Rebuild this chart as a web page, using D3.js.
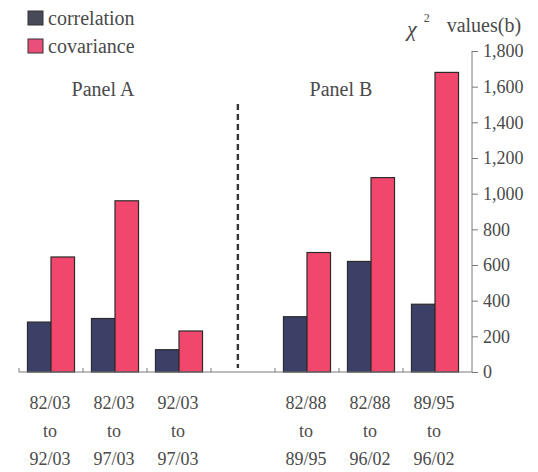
<!DOCTYPE html>
<html>
<head>
<meta charset="utf-8">
<script src="https://cdn.jsdelivr.net/npm/d3@7"></script>
<style>
  html, body { margin: 0; padding: 0; background: #fff; }
  svg { display: block; font-family: "Liberation Serif", "Times New Roman", serif; }
</style>
</head>
<body>
<svg id="chart" width="538" height="472"></svg>
<script>
// Sample periods compared in each panel
const panelA = ["82/03 to 92/03", "82/03 to 97/03", "92/03 to 97/03"];
const panelB = ["82/88 to 89/95", "82/88 to 96/02", "89/95 to 96/02"];
const categories = panelA.concat(panelB);

// Chi-square statistics by test
const series = ["correlation", "covariance"];
const correlation = [280, 300, 125, 310, 620, 380];
const covariance = [645, 960, 230, 670, 1090, 1680];

const yTicks = [0, 200, 400, 600, 800, 1000, 1200, 1400, 1600, 1800];
const yTitle = "values(b)";
const panelTitles = ["Panel A", "Panel B"];

const colors = { correlation: "#3c3f66", covariance: "#f2476d" };

const svg = d3.select("#chart");

// Slots along the x axis: panel A, an empty divider slot, panel B
const slots = panelA.concat(["divider"], panelB);
const x0 = d3.scaleBand().domain(slots).range([19, 467]).padding(0);
const x1 = d3.scaleBand().domain(series).range([0, x0.bandwidth()])
  .paddingInner(0).paddingOuter(0.36);
const y = d3.scaleLinear().domain([0, 1800]).range([372, 51]);

const rows = categories.map((c, i) => ({
  cat: c,
  values: { correlation: correlation[i], covariance: covariance[i] }
}));

// Bars
const groups = svg.append("g").selectAll("g")
  .data(rows)
  .join("g")
  .attr("transform", d => `translate(${x0(d.cat)},0)`);

groups.selectAll("rect")
  .data(d => series.map(s => ({ s, v: d.values[s] })))
  .join("rect")
  .attr("x", d => x1(d.s))
  .attr("width", x1.bandwidth())
  .attr("y", d => y(d.v))
  .attr("height", d => y(0) - y(d.v))
  .attr("fill", d => colors[d.s])
  .attr("stroke", "#2b2b2b")
  .attr("stroke-width", 1.2);

// Baseline with small separator ticks between groups
const axisColor = "#7a7a7a";
svg.append("line")
  .attr("x1", x0.range()[0]).attr("x2", x0.range()[1] + 5)
  .attr("y1", y(0)).attr("y2", y(0))
  .attr("stroke", axisColor).attr("stroke-width", 1);

const edges = slots.map(s => x0(s));
svg.append("g").selectAll("line")
  .data(edges)
  .join("line")
  .attr("x1", d => d).attr("x2", d => d)
  .attr("y1", y(0)).attr("y2", y(0) - 4)
  .attr("stroke", axisColor).attr("stroke-width", 1);

// Right-hand value axis
const yAxis = d3.axisRight(y)
  .tickValues(yTicks)
  .tickFormat(d3.format(","))
  .tickSize(6)
  .tickPadding(5);

const ax = svg.append("g")
  .attr("transform", `translate(${x0.range()[1] + 5},0)`)
  .call(yAxis);
ax.select(".domain").attr("stroke", axisColor).attr("d", `M0,${y(1800)}V${y(0)}`);
ax.selectAll(".tick line").attr("stroke", axisColor);
ax.selectAll(".tick text")
  .attr("fill", "#4a4a4a")
  .style("font-size", "18px")
  .style("font-family", "'Liberation Serif', serif");

// Axis title: chi-square values
const title = svg.append("text")
  .attr("x", 407).attr("y", 32)
  .attr("fill", "#4a4a4a")
  .style("font-size", "20px");
title.append("tspan").text("χ").style("font-style", "italic").style("font-size", "22px").attr("dy", 4);
title.append("tspan").text("2").style("font-size", "12px").attr("dx", 7).attr("dy", -14);
title.append("tspan").text(" " + yTitle).attr("dx", 12).attr("dy", 10);

// Category labels (three lines each)
const lab = svg.append("g").selectAll("text")
  .data(categories)
  .join("text")
  .attr("text-anchor", "middle")
  .attr("fill", "#4a4a4a")
  .style("font-size", "18px")
  .attr("transform", d => `translate(${x0(d) + x0.bandwidth() / 2 - 1},0)`);
lab.each(function (d) {
  const parts = d.split(" to ");
  const t = d3.select(this);
  [parts[0], "to", parts[1]].forEach((p, i) => {
    t.append("tspan").attr("x", 0).attr("y", 409 + i * 28).text(p);
  });
});

// Dashed divider between the panels
const divX = x0("divider") + x0.bandwidth() * 0.42;
svg.append("line")
  .attr("x1", divX).attr("x2", divX)
  .attr("y1", 104).attr("y2", y(0) - 4)
  .attr("stroke", "#333")
  .attr("stroke-width", 2.4)
  .attr("stroke-dasharray", "6,4");

// Panel titles
svg.append("g").selectAll("text")
  .data(panelTitles)
  .join("text")
  .attr("x", (d, i) => i === 0 ? 103 : 341)
  .attr("y", 96)
  .attr("text-anchor", "middle")
  .attr("fill", "#4a4a4a")
  .style("font-size", "20px")
  .text(d => d);

// Legend
const legendColors = { correlation: "#484a5a", covariance: "#ea4f79" };
const legend = svg.append("g").selectAll("g")
  .data(series)
  .join("g")
  .attr("transform", (d, i) => `translate(28,${11 + i * 28})`);
legend.append("rect")
  .attr("width", 15).attr("height", 14)
  .attr("fill", d => legendColors[d])
  .attr("stroke", "#333").attr("stroke-width", 1);
legend.append("text")
  .attr("x", 20).attr("y", 14)
  .attr("fill", "#4a4a4a")
  .style("font-size", "20px")
  .text(d => d);
</script>
</body>
</html>
